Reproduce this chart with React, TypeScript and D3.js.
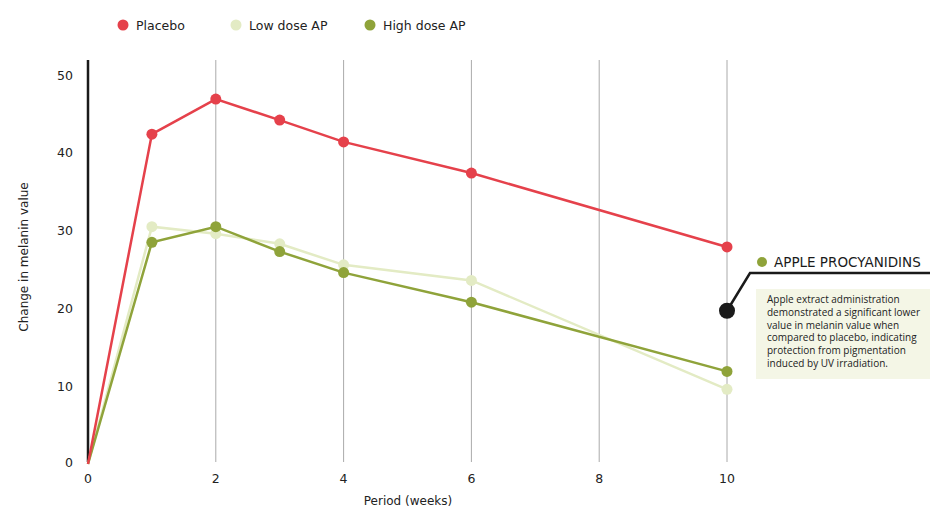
import React from "react";
import * as d3 from "d3";

const weeks = [0, 1, 2, 3, 4, 6, 10];
const placebo = [0, 42.4, 46.9, 44.2, 41.4, 37.4, 27.9];
const lowDose = [0, 30.5, 29.6, 28.3, 25.6, 23.6, 9.6];
const highDose = [0, 28.5, 30.5, 27.3, 24.6, 20.8, 11.9];
const seriesNames = ["Placebo", "Low dose AP", "High dose AP"];
const seriesColors = ["#e5414b", "#e3ebc4", "#8fa33a"];
const xTicks = [0, 2, 4, 6, 8, 10];
const yTicks = [0, 10, 20, 30, 40, 50];
const annotationTitle = "APPLE PROCYANIDINS";
const annotationLines = [
  "Apple extract administration",
  "demonstrated a significant lower",
  "value in melanin value when",
  "compared to placebo, indicating",
  "protection from pigmentation",
  "induced by UV irradiation.",
];
const annotationValue = 19.7;

const FONT = "'DejaVu Sans', sans-serif";
const BODY_FONT = "'Open Sans', 'Noto Sans', sans-serif";

export default function App() {
  const W = 940, H = 528;
  const x = d3.scaleLinear().domain([0, 10]).range([88, 727]);
  const y = d3.scaleLinear().domain([0, 50]).range([464, 75]);
  const line = d3.line<number>().x((_, i) => x(weeks[i])).y((v) => y(v));
  const data = [placebo, lowDose, highDose];
  const order = [1, 2, 0];
  const ax = x(10), ay = y(annotationValue);
  return (
    <svg width={W} height={H} style={{ position: "absolute", left: 0, top: 0 }} fontFamily={FONT}>
      <rect width={W} height={H} fill="#fff" />
      {/* legend */}
      {seriesNames.map((n, i) => {
        const lx = [123, 236, 370][i];
        return (
          <g key={n}>
            <circle cx={lx} cy={25} r={5.5} fill={seriesColors[i]} />
            <text x={lx + 13} y={29.5} fontSize={12.5} fill="#222">{n}</text>
          </g>
        );
      })}
      {/* grid */}
      {xTicks.filter((t) => t > 0).map((t) => (
        <line key={t} x1={x(t)} x2={x(t)} y1={60} y2={462} stroke="#aaa" strokeWidth={1} />
      ))}
      <line x1={x(0)} x2={x(0)} y1={60} y2={462} stroke="#1a1a1a" strokeWidth={2.5} />
      {/* y ticks */}
      {yTicks.map((t) => (
        <text key={t} x={73} y={(t === 0 ? 462 : y(t)) + 4.5} fontSize={12.5} textAnchor="end" fill="#222">{t}</text>
      ))}
      {xTicks.map((t) => (
        <text key={t} x={x(t)} y={483} fontSize={12.5} textAnchor="middle" fill="#222">{t}</text>
      ))}
      <text x={408} y={505} fontSize={12} textAnchor="middle" fill="#222">Period (weeks)</text>
      <text transform="translate(28,257) rotate(-90)" fontSize={12} textAnchor="middle" fill="#222">Change in melanin value</text>
      {/* series */}
      {order.map((si) => (
        <g key={si}>
          <path d={line(data[si]) || ""} fill="none" stroke={seriesColors[si]} strokeWidth={2.5} />
          {data[si].map((v, i) => (i === 0 ? null : (
            <circle key={i} cx={x(weeks[i])} cy={y(v)} r={5.5} fill={seriesColors[si]} />
          )))}
        </g>
      ))}
      {/* annotation */}
      <polyline points={`${ax},${ay} ${ax + 23},${273} ${930},${273}`} fill="none" stroke="#1a1a1a" strokeWidth={2.5} />
      <circle cx={ax} cy={ay} r={8} fill="#1a1a1a" />
      <circle cx={762} cy={262} r={5} fill="#8fa33a" />
      <text x={774} y={267} fontSize={13.5} fill="#1a1a1a">{annotationTitle}</text>
      <rect x={756} y={289} width={174} height={90} fill="#f4f6e6" />
      {annotationLines.map((l, i) => (
        <text key={i} x={767} y={303 + i * 12.8} fontSize={10} fontFamily={BODY_FONT} fill="#222">{l}</text>
      ))}
    </svg>
  );
}
